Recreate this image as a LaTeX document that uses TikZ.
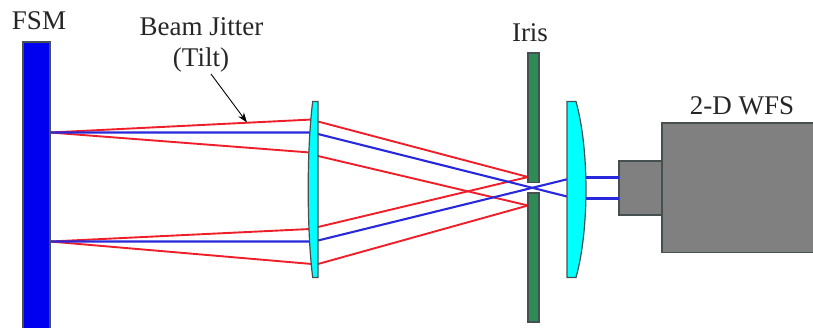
\documentclass[tikz,border=0pt]{standalone}
\usepackage{fontspec}
\setmainfont{Liberation Serif}
\usetikzlibrary{arrows.meta}
\definecolor{mirrorblue}{RGB}{0,0,240}
\definecolor{irisgreen}{RGB}{46,139,87}
\definecolor{lenscyan}{RGB}{0,255,255}
\definecolor{wfsgray}{RGB}{128,128,128}
\definecolor{rayred}{RGB}{240,30,40}
\definecolor{rayblue}{RGB}{40,40,220}
\definecolor{edgegray}{RGB}{70,80,80}
\tikzset{
  part/.style={draw=edgegray,line width=1.2pt,line join=miter},
  redray/.style={draw=rayred,line width=1.9pt},
  blueray/.style={draw=rayblue,line width=2.1pt},
  label/.style={font=\fontsize{27bp}{30bp}\selectfont,text=black!85,inner sep=0pt,anchor=center}
}
\begin{document}
\begin{tikzpicture}[x=1bp,y=-1bp]
\useasboundingbox (0,0) rectangle (813,327);
\begin{scope}
\clip (0,0) rectangle (813,327);
% rays
\coordinate (src1) at (50,132.5);
\coordinate (src2) at (50,241.5);
\coordinate (tipA) at (528,177);
\coordinate (tipB) at (528,205.5);
\draw[redray] (src1) -- (312,119.5) (318,121.5) -- (tipA);
\draw[redray] (src1) -- (310,152.5) (318,156) -- (tipB);
\draw[redray] (src2) -- (310,229) (318,227) -- (tipA);
\draw[redray] (src2) -- (312,264) (318,264) -- (tipB);
\draw[blueray] (src1) -- (312,132.5) (318,134) -- (567,196.5);
\draw[blueray] (src2) -- (312,241.5) (318,240.5) -- (567,179.3);
% FSM
\draw[part,fill=mirrorblue] (23,42) rectangle (50,340);
% lens 1
\draw[part,fill=lenscyan] (312.7,101.5) -- (318,101.5) -- (318,277.5) -- (312.7,277.5)
  .. controls (306.7,230) and (306.7,149) .. cycle;
% iris
\draw[part,fill=irisgreen] (528,53) rectangle (539,182.5);
\draw[part,fill=irisgreen] (528,193) rectangle (539,322);
% lens 2
\draw[part,fill=lenscyan] (567,101.5) -- (576,101.5)
  .. controls (589.3,149) and (589.3,230) .. (576,277.5) -- (567,277.5) -- cycle;
% WFS
\draw[part,fill=wfsgray] (662,123) rectangle (830,252.7);
\draw[part,fill=wfsgray] (619,161) rectangle (662,215);
\draw[blueray] (586,177.5) -- (619,177.5);
\draw[blueray] (586,198.5) -- (619,198.5);
\end{scope}
% labels
\node[label] (fsm) at (39,21) {FSM};
\node[label] (jitter) at (201.5,27) {Beam Jitter};
\node[label] (tilt) at (201,60) {(Tilt)};
\node[label] (iris) at (530,33) {Iris};
\node[label] (wfs) at (742,106) {2-D WFS};
\coordinate (tiltTip) at (247,122.5);
\draw[black,line width=0.9pt,-{Stealth[length=10bp,width=7bp]}] (211,74) -- (tiltTip);
\end{tikzpicture}
\end{document}
